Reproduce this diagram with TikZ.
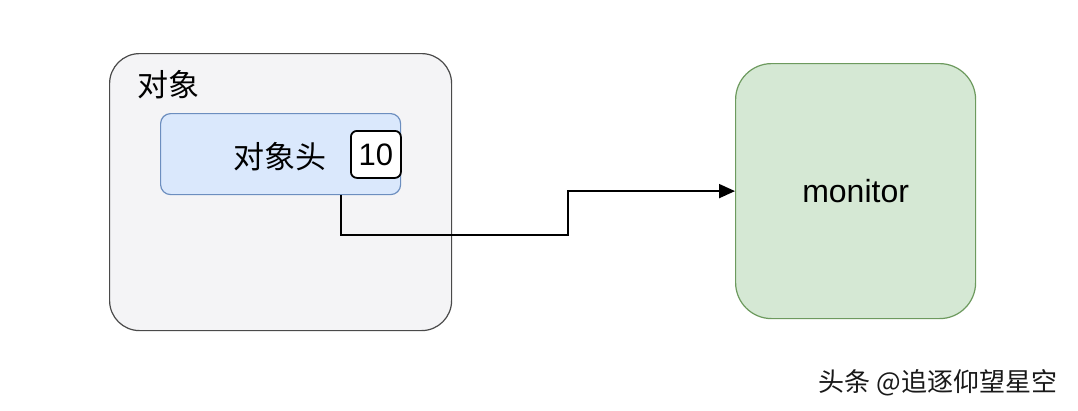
\documentclass[tikz,border=0pt]{standalone}
\usepackage{fontspec}
\setmainfont{Liberation Sans}
\newfontfamily\cjk{Noto Sans CJK SC}
\usetikzlibrary{arrows.meta}
\definecolor{objfill}{HTML}{F4F4F6}
\definecolor{objline}{HTML}{4A4A4A}
\definecolor{headfill}{HTML}{DAE8FC}
\definecolor{headline}{HTML}{6C8EBF}
\definecolor{monfill}{HTML}{D5E8D4}
\definecolor{monline}{HTML}{6D9A5E}
\begin{document}
\begin{tikzpicture}[x=1pt,y=-1pt,
  big/.style={font=\fontsize{31}{34}\selectfont},
  card/.style={anchor=north west, line width=1.2pt}]
\useasboundingbox[fill=white] (0,0) rectangle (1078,410);
% object
\node[card, draw=objline, fill=objfill, rounded corners=30pt,
  minimum width=342pt, minimum height=277pt] (obj) at (109,53) {};
\node[font=\cjk\fontsize{31}{34}\selectfont] (objname) at (168,85) {对象};
% header
\node[card, draw=headline, fill=headfill, rounded corners=10pt,
  minimum width=240pt, minimum height=81pt] (head) at (160,113) {};
\node[font=\cjk\fontsize{31}{34}\selectfont] (headname) at (280,157) {对象头};
\node[card, draw, fill=white, rounded corners=6pt, line width=1.8pt,
  minimum width=50pt, minimum height=47pt, big] (count) at (350,130) {10};
% monitor
\node[card, draw=monline, fill=monfill, rounded corners=36pt,
  minimum width=240pt, minimum height=255pt,
  font=\fontsize{32}{35}\selectfont] (mon) at (735,63) {monitor};
\coordinate (bend) at (568,235);
\draw[line width=2pt, -{Triangle[length=16pt, width=14pt]}]
  ([xshift=60pt]head.south) |- (bend) |- (mon.west);
% mark
\node[font=\cjk\fontsize{26}{29}\selectfont, text=black!90] (mark) at (938,383) {头条 @追逐仰望星空};
\end{tikzpicture}
\end{document}
